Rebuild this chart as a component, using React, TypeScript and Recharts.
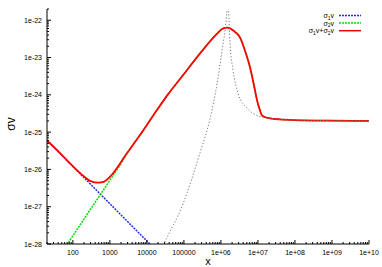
import React from 'react';
import { LineChart, Line, XAxis, YAxis, Legend } from 'recharts';

const FONT = '"Liberation Sans", Arial, Helvetica, sans-serif';

// major tick positions and their labels
const xMajor = [100, 1000, 10000, 100000, 1e6, 1e7, 1e8, 1e9, 1e10];
const xMajorLabels = ['100', '1000', '10000', '100000', '1e+06', '1e+07', '1e+08', '1e+09', '1e+10'];
const yMajor = [1e-28, 1e-27, 1e-26, 1e-25, 1e-24, 1e-23, 1e-22];
const yMajorLabels = ['1e-28', '1e-27', '1e-26', '1e-25', '1e-24', '1e-23', '1e-22'];

// sigma_1 v (blue)
const sigma1X = [20, 100, 1000, 10000, 30000];
const sigma1Y = [6.0e-26, 1.2e-26, 1.2e-27, 1.2e-28, 4.0e-29];

// sigma_2 v (green, mostly hidden under the sum)
const sigma2X = [50, 100, 200, 500, 1000, 2000, 2851, 8000, 18450, 35000, 1e5, 2.73e5, 7.87e5, 1.1e6, 1.47e6,
  2.2e6, 3.29e6, 4.5e6, 6.12e6, 8e6, 9.46e6, 1.1e7, 1.29e7, 1.6e7, 2.13e7, 3.96e7, 1e8, 1e9, 1e10];
const sigma2Y = [5.9e-29, 1.66e-28, 4.7e-28, 1.82e-27, 5.1e-27, 1.44e-26, 2.6e-26, 1.11e-25, 3.82e-25, 9.5e-25,
  3.6e-24, 1.29e-23, 4.37e-23, 5.9e-23, 6.3e-23, 5.2e-23, 3.43e-23, 1.5e-23, 5.4e-24, 1.6e-24, 7.1e-25, 4.2e-25,
  2.8e-25, 2.5e-25, 2.34e-25, 2.19e-25, 2.1e-25, 2.03e-25, 2.0e-25];

// sigma_1 v + sigma_2 v (red)
const sumX = [20, 45, 100, 200, 300, 486, 700, 1000, 2851, 8000, 18450, 35000, 1e5, 2.73e5, 7.87e5, 1.1e6, 1.47e6,
  2.2e6, 3.29e6, 4.5e6, 6.12e6, 8e6, 9.46e6, 1.1e7, 1.29e7, 1.6e7, 2.13e7, 3.96e7, 1e8, 1e9, 1e10];
const sumY = [6.0e-26, 2.75e-26, 1.22e-26, 6.5e-27, 4.85e-27, 4.4e-27, 4.7e-27, 6.3e-27, 2.66e-26, 1.12e-25,
  3.83e-25, 9.5e-25, 3.6e-24, 1.29e-23, 4.37e-23, 5.9e-23, 6.3e-23, 5.2e-23, 3.43e-23, 1.5e-23, 5.4e-24, 1.6e-24,
  7.1e-25, 4.2e-25, 2.8e-25, 2.5e-25, 2.34e-25, 2.19e-25, 2.1e-25, 2.03e-25, 2.0e-25];

// resonance (grey dotted)
const resX = [20000, 27300, 94800, 2.73e5, 5.08e5, 7.87e5, 1.07e6, 1.38e6, 1.47e6, 1.54e6, 1.61e6, 1.77e6, 2.13e6,
  2.9e6, 5.08e6, 9.5e6, 1.38e7, 3e7, 1e8, 1e9, 1e10];
const resY = [4.5e-29, 9e-29, 1.2e-27, 2.8e-26, 2.3e-25, 2.0e-24, 1.55e-23, 9.8e-23, 2.1e-22, 5e-22, 2e-22, 2.3e-23,
  4.5e-24, 1.1e-24, 4.4e-25, 2.8e-25, 2.5e-25, 2.25e-25, 2.1e-25, 2.03e-25, 2.0e-25];

const toPoints = (xs: number[], ys: number[]) => xs.map((x, i) => ({ x, y: ys[i] }));

// log-axis ticks: majors plus 2..9 minors in each decade
const minorTicks = (majors: number[], lo: number, hi: number) => {
  const out: number[] = [];
  majors.forEach((m) => {
    for (let k = 1; k <= 9; k++) {
      const v = (m / 10) * k;
      if (v >= lo * 0.999 && v <= hi * 1.001) out.push(v);
    }
  });
  if (!out.includes(majors[majors.length - 1])) out.push(majors[majors.length - 1]);
  return out;
};

const xTicks = minorTicks(xMajor, 20, 1e10);
const yTicks = minorTicks(yMajor, 1e-28, 2e-22).concat([2e-22]).filter((v, i, a) => a.indexOf(v) === i);

const majorIndex = (v: number, majors: number[]) =>
  majors.findIndex((m) => Math.abs(Math.log10(v) - Math.log10(m)) < 1e-6);

const BottomTick = (props: any) => {
  const { x, y, payload } = props;
  const i = majorIndex(payload.value, xMajor);
  return (
    <g>
      <line x1={x} x2={x} y1={y} y2={y - (i >= 0 ? 4 : 2)} stroke="#000" />
      {i >= 0 && (
        <text x={x} y={y + 11} textAnchor="middle" fontSize={7} fontFamily={FONT} fill="#000">
          {xMajorLabels[i]}
        </text>
      )}
    </g>
  );
};

const TopTick = (props: any) => {
  const { x, y, payload } = props;
  const i = majorIndex(payload.value, xMajor);
  return <line x1={x} x2={x} y1={y} y2={y + (i >= 0 ? 4 : 2)} stroke="#000" />;
};

const LeftTick = (props: any) => {
  const { x, y, payload } = props;
  const i = majorIndex(payload.value, yMajor);
  return (
    <g>
      <line x1={x} x2={x + (i >= 0 ? 4 : 2)} y1={y} y2={y} stroke="#000" />
      {i >= 0 && (
        <text x={x - 5} y={y + 2.5} textAnchor="end" fontSize={7} fontFamily={FONT} fill="#000">
          {yMajorLabels[i]}
        </text>
      )}
    </g>
  );
};

const RightTick = (props: any) => {
  const { x, y, payload } = props;
  const i = majorIndex(payload.value, yMajor);
  return <line x1={x} x2={x - (i >= 0 ? 4 : 2)} y1={y} y2={y} stroke="#000" />;
};

const legendRows = [
  { sub: ['1'], color: '#2a2ae6', dash: '2 1' },
  { sub: ['2'], color: '#00dd00', dash: '2 1' },
  { sub: ['1', '2'], color: '#ff0000', dash: undefined },
];

const renderLegend = () => (
  <svg width={382} height={40}>
    {legendRows.map((r, i) => {
      const y = 15.5 + i * 7.6;
      return (
        <g key={i}>
          <text x={334} y={y + 2.5} textAnchor="end" fontSize={7} fontFamily={FONT} fill="#000">
            {r.sub.length === 1 ? (
              <>
                σ<tspan fontSize={5} dy={1.5}>{r.sub[0]}</tspan>
                <tspan dy={-1.5}>v</tspan>
              </>
            ) : (
              <>
                σ<tspan fontSize={5} dy={1.5}>1</tspan>
                <tspan dy={-1.5}>v+σ</tspan>
                <tspan fontSize={5} dy={1.5}>2</tspan>
                <tspan dy={-1.5}>v</tspan>
              </>
            )}
          </text>
          <line x1={339} x2={361} y1={y} y2={y} stroke={r.color} strokeWidth={1.5} strokeDasharray={r.dash} />
        </g>
      );
    })}
  </svg>
);

export default function App() {
  return (
    <div style={{ position: 'absolute', left: 0, top: 0, width: 382, height: 267, background: '#fff' }}>
      <LineChart width={382} height={267} margin={{ top: 9, right: 13, bottom: 0, left: 0 }}>
        <XAxis xAxisId="b" dataKey="x" type="number" scale="log" domain={[20, 1e10]} allowDataOverflow
          ticks={xTicks} interval={0} tickSize={0} tickMargin={0} height={23} tick={<BottomTick />}
          axisLine={{ stroke: '#000' }} tickLine={false} />
        <XAxis xAxisId="t" orientation="top" dataKey="x" type="number" scale="log" domain={[20, 1e10]}
          allowDataOverflow ticks={xTicks} interval={0} tickSize={0} tickMargin={0} height={0}
          tick={<TopTick />} axisLine={{ stroke: '#000' }} tickLine={false} />
        <YAxis yAxisId="l" type="number" scale="log" domain={[1e-28, 2e-22]} allowDataOverflow ticks={yTicks}
          interval={0} tickSize={0} tickMargin={0} width={47} tick={<LeftTick />}
          axisLine={{ stroke: '#000' }} tickLine={false} />
        <YAxis yAxisId="r" orientation="right" type="number" scale="log" domain={[1e-28, 2e-22]}
          allowDataOverflow ticks={yTicks} interval={0} tickSize={0} tickMargin={0} width={0}
          tick={<RightTick />} axisLine={{ stroke: '#000' }} tickLine={false} />
        <Legend layout="horizontal" verticalAlign="middle" align="center" content={renderLegend}
          wrapperStyle={{ left: 0, top: 0, width: 382, height: 40 }} />
        <Line xAxisId="b" yAxisId="l" data={toPoints(sigma1X, sigma1Y)} dataKey="y" type="monotone"
          stroke="#2a2ae6" strokeWidth={1.5} strokeDasharray="2 1" dot={false} isAnimationActive={false} />
        <Line xAxisId="b" yAxisId="l" data={toPoints(sigma2X, sigma2Y)} dataKey="y" type="monotone"
          stroke="#00dd00" strokeWidth={1.5} strokeDasharray="2 1" dot={false} isAnimationActive={false} />
        <Line xAxisId="b" yAxisId="l" data={toPoints(sumX, sumY)} dataKey="y" type="monotone"
          stroke="#ff0000" strokeWidth={1.8} dot={false} isAnimationActive={false} />
        <Line xAxisId="b" yAxisId="l" data={toPoints(resX, resY)} dataKey="y" type="monotone"
          stroke="#777" strokeWidth={1} strokeDasharray="1.2 2" dot={false} isAnimationActive={false} />
        <text x={11} y={124} transform="rotate(-90 11 124)" textAnchor="middle" dominantBaseline="central"
          fontSize={12} fontFamily={FONT} fill="#000">σv</text>
        <text x={208} y={265} textAnchor="middle" fontSize={11} fontFamily={FONT} fill="#000">x</text>
      </LineChart>
    </div>
  );
}
